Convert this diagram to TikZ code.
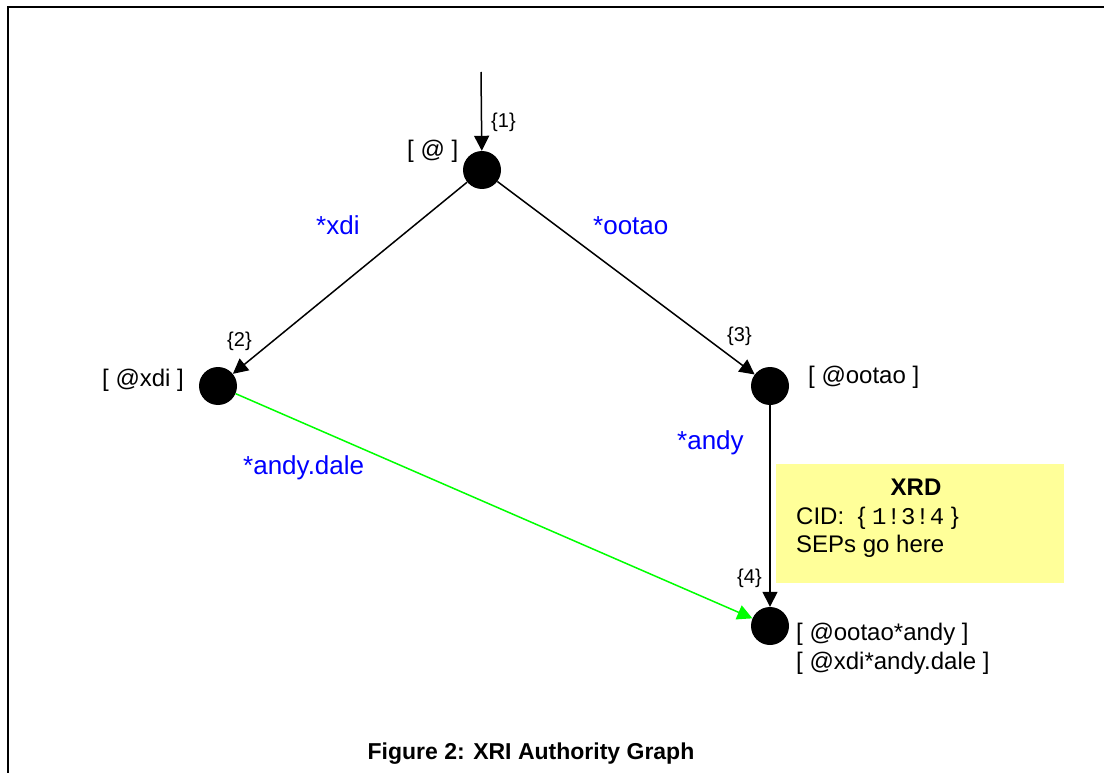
\documentclass[tikz,border=0pt]{standalone}
\usepackage{fontspec}
\setmainfont{Liberation Sans}
\setmonofont{Liberation Mono}
\usetikzlibrary{arrows.meta}
\definecolor{xrdyellow}{HTML}{FFFF99}
\definecolor{linkgreen}{HTML}{00FF00}
\tikzset{
  authority/.style={circle,fill=black,minimum size=38pt,inner sep=0pt},
  xriname/.style={font=\fontsize{24}{28}\selectfont,inner sep=0pt,anchor=base west},
  cidnum/.style={font=\fontsize{20}{24}\selectfont,inner sep=0pt,anchor=base west},
  subseg/.style={font=\fontsize{26}{30}\selectfont,text=blue,inner sep=0pt,anchor=base west},
  link/.style={line width=1.5pt,-{Triangle[length=15pt,width=15pt]}},
}
\begin{document}
\begin{tikzpicture}[x=1pt,y=-1pt]
\useasboundingbox (0,0) rectangle (1104,773);
\draw[line width=2pt] (8,773) -- (8,7) -- (1104,7);

\node[authority] (root) at (482,170) {};
\node[authority] (xdi) at (218,386) {};
\node[authority] (ootao) at (770,386) {};
\node[authority] (andy) at (770,626) {};
\coordinate (entry) at (481,72);

\node[xriname] (rootname) at (407,158) {[ @ ]};
\node[xriname] (xdiname) at (102,386) {[ @xdi ]};
\node[xriname] (ootaoname) at (808,383) {[ @ootao ]};
\node[xriname] (andyname) at (796,640) {[ @ootao*andy ]};
\node[xriname] (dalename) at (796,669) {[ @xdi*andy.dale ]};

\node[cidnum] (cid1) at (491,128) {\{1\}};
\node[cidnum] (cid2) at (227,346) {\{2\}};
\node[cidnum] (cid3) at (727,341) {\{3\}};
\node[cidnum] (cid4) at (737,583) {\{4\}};

\node[subseg] (segxdi) at (316,234) {*xdi};
\node[subseg] (segootao) at (593,234) {*ootao};
\node[subseg] (segandy) at (677,449) {*andy};
\node[subseg] (segdale) at (243,474) {*andy.dale};

\node[fill=xrdyellow,minimum width=288pt,minimum height=119pt,inner sep=0pt,anchor=north west] (xrd) at (776,464) {};
\node[font=\bfseries\fontsize{24}{28}\selectfont,inner sep=0pt,anchor=base] (xrdtitle) at (916,495) {XRD};
\node[xriname] (xrdcid) at (796,524) {CID:\ \ \{ \texttt{1!3!4} \}};
\node[xriname] (xrdsep) at (796,552) {SEPs go here};

\draw[link] (entry) -- (root);
\draw[link] (root) -- (xdi);
\draw[link] (root) -- (ootao);
\draw[link] (ootao) -- (andy);
\draw[link,linkgreen] (xdi) -- (andy);

\node[font=\bfseries\fontsize{23}{27}\selectfont,inner sep=0pt,anchor=base] (caption) at (531,759) {Figure 2: XRI Authority Graph};
\end{tikzpicture}
\end{document}
